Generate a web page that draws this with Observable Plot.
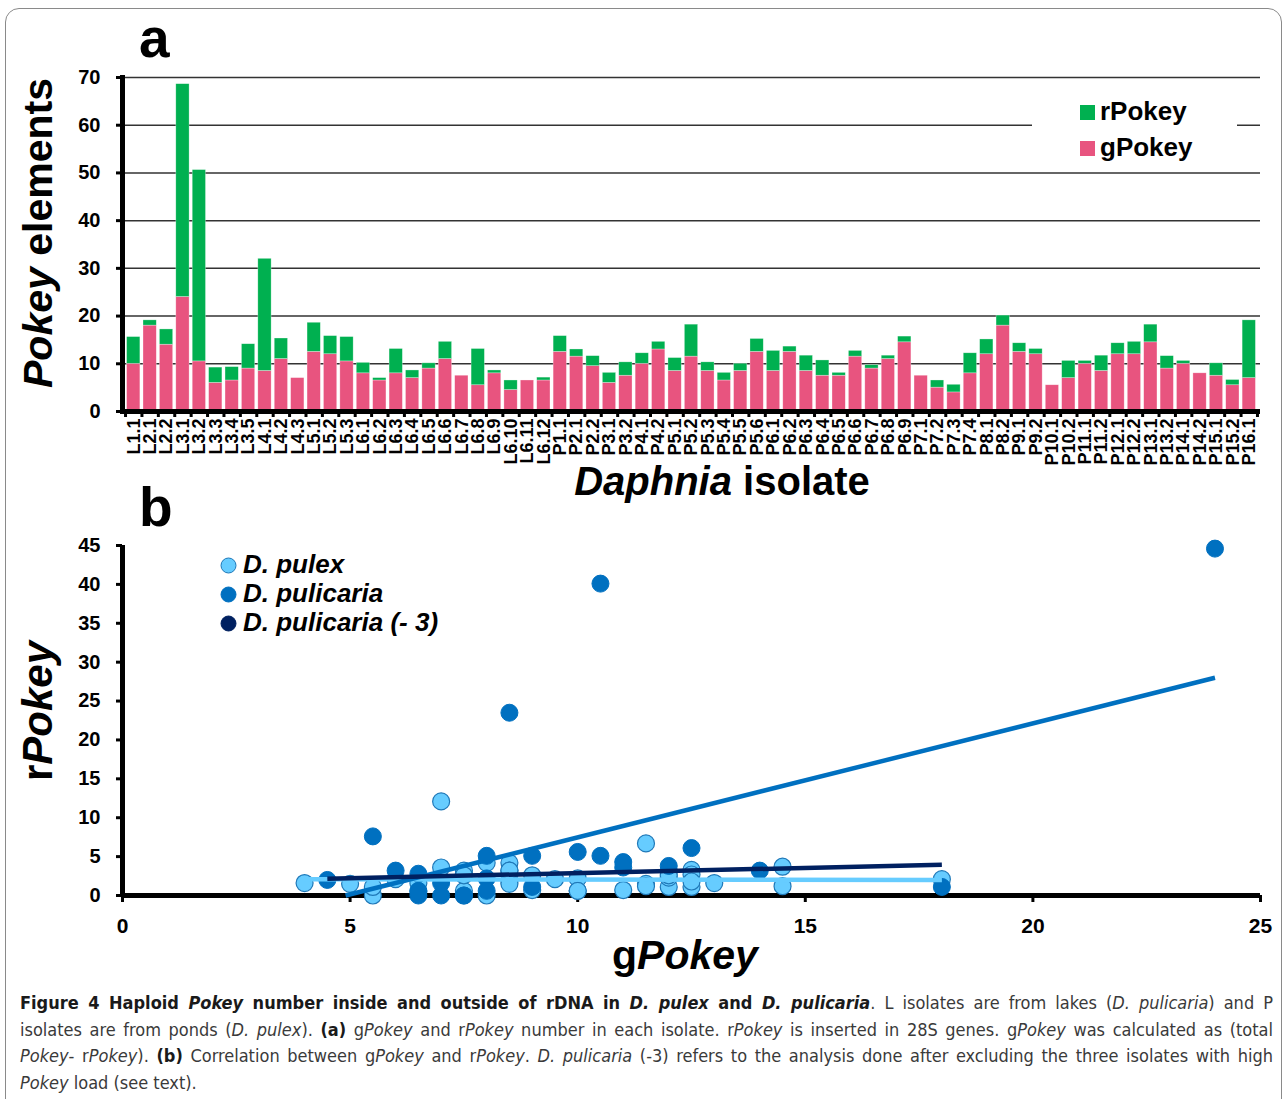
<!DOCTYPE html>
<html><head><meta charset="utf-8">
<script src="https://cdn.jsdelivr.net/npm/d3@7"></script>
<script src="https://cdn.jsdelivr.net/npm/@observablehq/plot@0.6"></script>
<style>
html,body{margin:0;padding:0;background:#fff;}
body{width:1287px;height:1099px;overflow:hidden;position:relative;font-family:"Liberation Sans",Arial,sans-serif;}
#frame{position:absolute;left:5px;top:8px;width:1275px;height:1120px;border:1.5px solid #8a8a8a;border-radius:14px;}
.chart{position:absolute;left:0;}
.lbl{position:absolute;font-weight:bold;white-space:nowrap;color:#000;}
.rot{transform:translate(-50%,-50%) rotate(-90deg);}
.ctr{transform:translate(-50%,-50%);}
.panel{position:absolute;font-weight:bold;font-size:55px;line-height:1;}
#legA{position:absolute;left:1032px;top:94px;width:205px;height:66px;background:#fff;}
.li{position:absolute;left:48px;font-size:26px;font-weight:bold;line-height:1;}
.sw{display:inline-block;width:15px;height:15px;margin-right:5px;vertical-align:0px;}
#legB{position:absolute;left:220px;top:550px;}
.lb{font-size:26px;font-weight:bold;font-style:italic;height:29px;line-height:29px;white-space:nowrap;}
.lb svg{vertical-align:-1px;margin-right:6px;}
#cap{position:absolute;left:20px;top:990px;width:1253px;font-family:"DejaVu Sans Condensed","DejaVu Sans",sans-serif;font-stretch:condensed;font-size:18px;color:#3a3a3a;}
#cap div{height:26.5px;line-height:26.5px;text-align:justify;text-align-last:justify;white-space:nowrap;}
#cap div.last{text-align-last:left;}
#cap b{color:#1a1a1a;}
</style></head><body>
<div id="frame"></div>
<script>
// ---------- data ----------
const isolates = ["L1.1","L2.1","L2.2","L3.1","L3.2","L3.3","L3.4","L3.5","L4.1","L4.2","L4.3","L5.1","L5.2","L5.3",
  "L6.1","L6.2","L6.3","L6.4","L6.5","L6.6","L6.7","L6.8","L6.9","L6.10","L6.11","L6.12",
  "P1.1","P2.1","P2.2","P3.1","P3.2","P4.1","P4.2","P5.1","P5.2","P5.3","P5.4","P5.5","P5.6",
  "P6.1","P6.2","P6.3","P6.4","P6.5","P6.6","P6.7","P6.8","P6.9","P7.1","P7.2","P7.3","P7.4",
  "P8.1","P8.2","P9.1","P9.2","P10.1","P10.2","P11.1","P11.2","P12.1","P12.2","P13.1","P13.2",
  "P14.1","P14.2","P15.1","P15.2","P16.1"];
const gPokey = [10,18,14,24,10.5,6,6.5,9,8.5,11,7,12.5,12,10.5,8,6.5,8,7,9,11,7.5,5.5,8,4.5,6.5,6.5,
  12.5,11.5,9.5,6,7.5,10,13,8.5,11.5,8.5,6.5,8.5,12.5,8.5,12.5,8.5,7.5,7.5,11.5,9,11,14.5,7.5,5,4,8,
  12,18,12.5,12,5.5,7,10,8.5,12,12,14.5,9,10,8,7.5,5.5,7];
const rPokey = [5.6,1.1,3.2,44.6,40.1,3.2,2.8,5.1,23.5,4.3,0,6.1,3.8,5.1,2.2,0.5,5.1,1.6,1.1,3.6,0,7.6,0.6,2.0,0,0.6,
  3.3,1.5,2.1,2.1,2.8,2.2,1.6,2.7,6.7,1.8,1.6,1.5,2.7,4.2,1.1,3.2,3.2,0.6,1.2,0.7,0.7,1.2,0,1.5,1.6,4.2,
  3.1,2.1,1.8,1.1,0,3.6,0.6,3.2,2.3,2.6,3.7,2.6,0.6,0,2.6,1.1,12.1];
const stackTypes = ["gPokey","rPokey"];
const yTicksA = [0,10,20,30,40,50,60,70];

const species = ["D. pulex","D. pulicaria","D. pulicaria (- 3)"];
// regression lines (start/end points)
const lineX1 = [4, 4.9, 4.5];
const lineY1 = [2.1, 0, 2.15];
const lineX2 = [18, 24, 18];
const lineY2 = [2.0, 28, 3.95];
const xTicksB = [0,5,10,15,20,25];
const yTicksB = [0,5,10,15,20,25,30,35,40,45];

// ---------- styles ----------
const PINK = "#E8547F", GREEN = "#00B050";
const LIGHT = "#66CCFF", MED = "#0070C0", NAVY = "#002060";
const FONT = "'Liberation Sans', Arial, sans-serif";

// ---------- panel a ----------
const rowsA = isolates.flatMap((id, i) => [
  {isolate: id, type: "gPokey", value: gPokey[i]},
  {isolate: id, type: "rPokey", value: rPokey[i]}
]);
const mlA = 122, mrA = 27, wA = 1287;
const padIn = 0.19, padOut = 0.28;
const stepA = (wA - mlA - mrA) / (isolates.length - padIn + 2 * padOut);

const chartA = Plot.plot({
  width: wA, height: 480,
  marginLeft: mlA, marginRight: mrA, marginTop: 77, marginBottom: 69,
  style: {fontFamily: FONT, background: "transparent", color: "#000"},
  x: {domain: isolates, paddingInner: padIn, paddingOuter: padOut, round: false, label: null},
  y: {domain: [0, 70], label: null},
  color: {domain: stackTypes, range: [PINK, GREEN]},
  marks: [
    Plot.gridY(yTicksA.filter(d => d > 0), {stroke: "#333", strokeOpacity: 1, strokeWidth: 1.5}),
    Plot.barY(rowsA, {x: "isolate", y: "value", fill: "type", stroke: "#fff", strokeWidth: 0.6, strokeOpacity: 0.5}),
    Plot.axisY({ticks: yTicksA, tickSize: 6, tickPadding: 16, strokeWidth: 3, fontSize: 20, fontWeight: "bold", label: null}),
    Plot.axisX({tickSize: 0, tickPadding: 7, tickRotate: -90, fontSize: 18, fontWeight: "bold", label: null}),
    Plot.axisX({ticks: isolates, text: null, tickSize: 6, strokeWidth: 3, dx: -stepA / 2, label: null}),
    Plot.axisX({ticks: isolates.slice(-1), text: null, tickSize: 6, strokeWidth: 3, dx: stepA / 2, label: null}),
    Plot.ruleY([0], {strokeWidth: 5, stroke: "#000"}),
    Plot.frame({anchor: "left", strokeWidth: 5, stroke: "#000"})
  ]
});
chartA.classList.add("chart");
chartA.style.top = "0px";
document.body.appendChild(chartA);

// ---------- panel b ----------
const rowsB = isolates.map((id, i) => ({
  isolate: id, g: gPokey[i], r: rPokey[i],
  species: id.startsWith("P") ? species[0] : species[1]
}));
const linesB = species.map((s, i) => ({species: s, x1: lineX1[i], y1: lineY1[i], x2: lineX2[i], y2: lineY2[i]}));
const lineColor = {"D. pulex": LIGHT, "D. pulicaria": MED, "D. pulicaria (- 3)": NAVY};

const chartB = Plot.plot({
  width: 1287, height: 480,
  marginLeft: 122, marginRight: 27, marginTop: 45, marginBottom: 85,
  style: {fontFamily: FONT, background: "transparent", color: "#000", overflow: "visible"},
  x: {domain: [0, 25], label: null},
  y: {domain: [0, 45], label: null},
  marks: [
    Plot.axisY({ticks: yTicksB, tickSize: 6, tickPadding: 16, strokeWidth: 3, fontSize: 20, fontWeight: "bold", label: null}),
    Plot.axisX({ticks: xTicksB, tickSize: 7, tickPadding: 16, strokeWidth: 3, fontSize: 21, fontWeight: "bold", label: null}),
    Plot.ruleY([0], {strokeWidth: 5, stroke: "#000"}),
    Plot.ruleX([0], {strokeWidth: 5, stroke: "#000"}),
    Plot.dot(rowsB.filter(d => d.species === species[0]), {x: "g", y: "r", r: 8.5, fill: LIGHT, stroke: "#1f78b8", strokeWidth: 1.2, clip: false}),
    Plot.dot(rowsB.filter(d => d.species === species[1]), {x: "g", y: "r", r: 8.5, fill: MED, stroke: MED, strokeWidth: 1, clip: false}),
    Plot.link(linesB, {x1: "x1", y1: "y1", x2: "x2", y2: "y2", stroke: d => lineColor[d.species], strokeWidth: 4.5})
  ]
});
chartB.classList.add("chart");
chartB.style.top = "500px";
document.body.appendChild(chartB);

// ---------- html labels, legends, caption ----------
function add(html) { document.body.insertAdjacentHTML("beforeend", html); }
add(`<div class="panel" style="left:139px;top:11px;">a</div>`);
add(`<div class="panel" style="left:139px;top:480px;">b</div>`);
add(`<div class="lbl rot" style="left:38px;top:233px;font-size:41px;"><i>Pokey</i> elements</div>`);
add(`<div class="lbl ctr" style="left:722px;top:481px;font-size:40px;"><i>Daphnia</i> isolate</div>`);
add(`<div class="lbl rot" style="left:38px;top:711px;font-size:42px;">r<i>Pokey</i></div>`);
add(`<div class="lbl ctr" style="left:685px;top:955px;font-size:41px;">g<i>Pokey</i></div>`);
add(`<div id="legA">
  <div class="li" style="top:4px;"><span class="sw" style="background:${GREEN}"></span>${stackTypes[1]}</div>
  <div class="li" style="top:40px;"><span class="sw" style="background:${PINK}"></span>${stackTypes[0]}</div>
</div>`);
const legCols = [[LIGHT, "#1f78b8"], [MED, MED], [NAVY, NAVY]];
add(`<div id="legB">${species.map((s, i) =>
  `<div class="lb"><svg width="17" height="17"><circle cx="8.5" cy="8.5" r="7.5" fill="${legCols[i][0]}" stroke="${legCols[i][1]}" stroke-width="1"/></svg>${s}</div>`).join("")}</div>`);
add(`<div id="cap">
<div><b>Figure 4 Haploid <i>Pokey</i> number inside and outside of rDNA in <i>D. pulex</i> and <i>D. pulicaria</i></b>. L isolates are from lakes (<i>D. pulicaria</i>) and P</div>
<div>isolates are from ponds (<i>D. pulex</i>). <b>(a)</b> g<i>Pokey</i> and r<i>Pokey</i> number in each isolate. r<i>Pokey</i> is inserted in 28S genes. g<i>Pokey</i> was calculated as (total</div>
<div><i>Pokey</i>- r<i>Pokey</i>). <b>(b)</b> Correlation between g<i>Pokey</i> and r<i>Pokey</i>. <i>D. pulicaria</i> (-3) refers to the analysis done after excluding the three isolates with high</div>
<div class="last"><i>Pokey</i> load (see text).</div>
</div>`);
</script>
</body></html>
